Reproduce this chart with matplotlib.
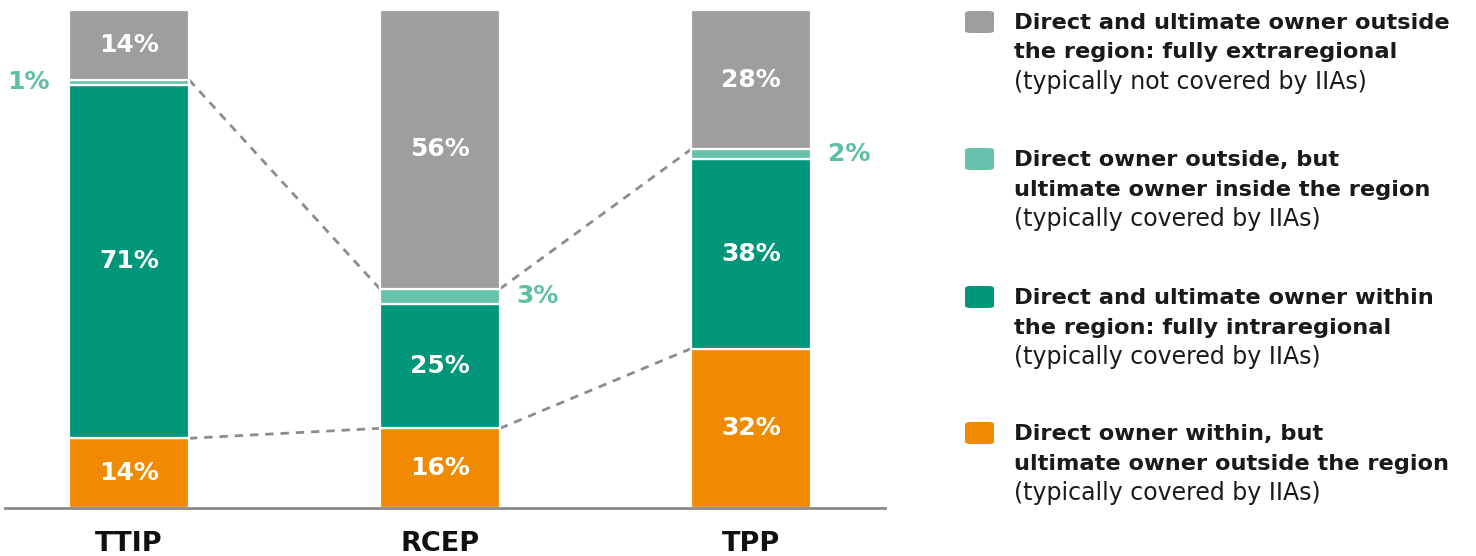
import matplotlib
matplotlib.use("Agg")
import numpy as np
import matplotlib.pyplot as plt
from matplotlib.patches import FancyBboxPatch

# Shares of foreign affiliates by ownership structure (percent), bottom to top
agreements = ["TTIP", "RCEP", "TPP"]
direct_within_ultimate_outside = [14, 16, 32]
fully_intraregional = [71, 25, 38]
direct_outside_ultimate_inside = [1, 3, 2]
fully_extraregional = [14, 56, 28]

legend_labels = [
    ("Direct and ultimate owner outside", "the region: fully extraregional",
     "(typically not covered by IIAs)"),
    ("Direct owner outside, but", "ultimate owner inside the region",
     "(typically covered by IIAs)"),
    ("Direct and ultimate owner within", "the region: fully intraregional",
     "(typically covered by IIAs)"),
    ("Direct owner within, but", "ultimate owner outside the region",
     "(typically covered by IIAs)"),
]

GRAY = "#9e9e9e"
TEAL = "#68c2ab"
GREEN = "#00967a"
ORANGE = "#f08a00"
TEAL_TEXT = "#5fbfa5"

plt.rcParams["font.family"] = ["DejaVu Sans"]

W, H = 1476, 556
fig = plt.figure(figsize=(W / 100, H / 100), dpi=100)
ax = fig.add_axes([4.6 / W, 48 / H, 880 / W, 498 / H])

x = np.arange(len(agreements))
width = 0.386
segments = [
    (direct_within_ultimate_outside, ORANGE),
    (fully_intraregional, GREEN),
    (direct_outside_ultimate_inside, TEAL),
    (fully_extraregional, GRAY),
]

bottom = np.zeros(len(agreements))
tops = []
for values, color in segments:
    values = np.array(values, dtype=float)
    ax.bar(x, values, width, bottom=bottom, color=color,
           edgecolor="white", linewidth=1.6, zorder=2)
    bottom = bottom + values
    tops.append(bottom.copy())

# value labels inside the larger segments
bottom = np.zeros(len(agreements))
for (values, color), top in zip(segments, tops):
    for i, v in enumerate(values):
        mid = bottom[i] + v / 2
        if v >= 5:
            ax.text(x[i], mid, f"{v}%", ha="center", va="center",
                    color="white", fontsize=18, fontweight="bold", zorder=3)
    bottom = top

# small teal shares sit outside the bars
teal_mid = tops[1] + np.array(direct_outside_ultimate_inside) / 2
ax.annotate(f"{direct_outside_ultimate_inside[0]}%", (x[0] - width / 2, teal_mid[0]),
            xytext=(-14, 0), textcoords="offset points", ha="right", va="center",
            color=TEAL_TEXT, fontsize=18, fontweight="bold")
for i in (1, 2):
    ax.annotate(f"{direct_outside_ultimate_inside[i]}%", (x[i] + width / 2, teal_mid[i]),
                xytext=(12, 0), textcoords="offset points", ha="left", va="center",
                color=TEAL_TEXT, fontsize=18, fontweight="bold")

# dashed connectors: share covered by IIAs and direct-within-only share
for level in (tops[0], tops[2]):
    for i in range(len(agreements) - 1):
        ax.plot([x[i] + width / 2, x[i + 1] - width / 2], [level[i], level[i + 1]],
                color="#8c8c8c", linestyle=(0, (3, 2.5)), linewidth=2, zorder=1)

ax.set_xlim(-0.4, 2.43)
ax.set_ylim(0, 100)
for side in ("top", "right", "left"):
    ax.spines[side].set_visible(False)
ax.spines["bottom"].set_color("#8a8a8a")
ax.spines["bottom"].set_linewidth(2)
ax.set_yticks([])
ax.set_xticks([])

# agreement names under the baseline
for i, name in enumerate(agreements):
    ax.annotate(name, (x[i], 0), xytext=(0, -26), textcoords="offset points",
                ha="center", va="center", fontsize=19.5, fontweight="bold",
                color="#111111", annotation_clip=False)

# legend drawn in figure pixels
legend_colors = [GRAY, TEAL, GREEN, ORANGE]
entry_top = [23, 160, 298, 434]
line_step = 29.5
for color, lines, y in zip(legend_colors, legend_labels, entry_top):
    patch = FancyBboxPatch((965 / W, 1 - (y + 10) / H), 29 / W, 22 / H,
                           boxstyle="round,pad=0,rounding_size=0.004",
                           transform=fig.transFigure, facecolor=color,
                           edgecolor="none")
    fig.patches.append(patch)
    for k, line in enumerate(lines):
        bold = k < 2
        fig.text(1014 / W, 1 - (y + k * line_step) / H, line, ha="left", va="center",
                 fontsize=16.2 if bold else 17, fontweight="bold" if bold else "normal",
                 color="#1a1a1a")

fig.savefig("out.png", dpi=100)
